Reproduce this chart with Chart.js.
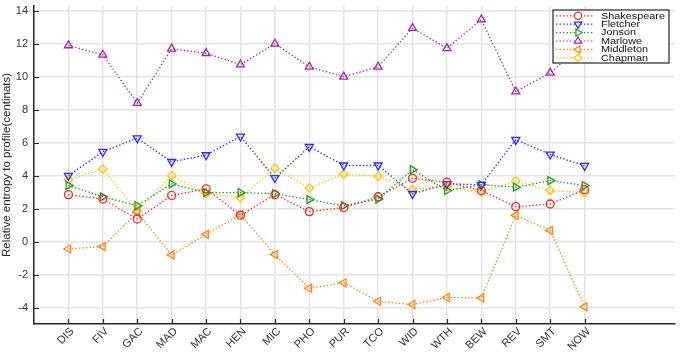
<!DOCTYPE html>
<html>
<head>
<meta charset="utf-8">
<script src="https://cdn.jsdelivr.net/npm/chart.js@4.4.1/dist/chart.umd.min.js"></script>
<style>
  body { margin: 0; background: #fff; }
  #wrap { width: 681px; height: 353px; position: relative; }
</style>
</head>
<body>
<div id="wrap"><canvas id="myChart"></canvas></div>
<script>
// plays (x axis)
const plays = ['DIS','FIV','GAC','MAD','MAC','HEN','MIC','PHO','PUR','TCO','WID','WTH','BEW','REV','SMT','NOW'];
const yTicks = [-4,-2,0,2,4,6,8,10,12,14];

// relative entropy per author (centinats)
const shakespeare = [2.85,2.58,1.37,2.8,3.2,1.6,2.85,1.82,2.06,2.72,3.84,3.6,3.1,2.12,2.28,3.15];
const fletcher    = [4.0,5.45,6.28,4.84,5.25,6.38,3.86,5.75,4.63,4.63,2.9,3.5,3.45,6.18,5.29,4.6];
const jonson      = [3.41,2.72,2.18,3.5,2.97,2.97,2.9,2.55,2.18,2.58,4.36,3.1,3.45,3.3,3.7,3.4];
const marlowe     = [11.9,11.33,8.4,11.7,11.43,10.74,12.0,10.6,10.0,10.6,12.95,11.73,13.47,9.1,10.24,12.0];
const middleton   = [-0.45,-0.3,1.78,-0.81,0.44,1.63,-0.79,-2.83,-2.5,-3.62,-3.82,-3.39,-3.42,1.59,0.68,-3.96];
const chapman     = [3.74,4.4,1.85,4.0,2.92,2.67,4.44,3.25,4.1,3.96,3.15,3.35,3.0,3.67,3.1,2.97];

const series = [
  {label:'Shakespeare', data:shakespeare, color:'#ee2a2a', style:'circle',   rot:0,   r:4},
  {label:'Fletcher',    data:fletcher,    color:'#2c2cf5', style:'triangle', rot:180, r:4.6},
  {label:'Jonson',      data:jonson,      color:'#1f9a1f', style:'triangle', rot:90,  r:4.6},
  {label:'Marlowe',     data:marlowe,     color:'#a02aa0', style:'triangle', rot:0,   r:4.6},
  {label:'Middleton',   data:middleton,   color:'#ff8416', style:'triangle', rot:-90, r:4.6},
  {label:'Chapman',     data:chapman,     color:'#fcc40a', style:'rectRot',  rot:0,   r:4.2}
];

const dash = [1.4, 2.1];

// inward tick marks like matlab
const innerTicks = {
  id: 'innerTicks',
  beforeDatasetsDraw(chart) {
    const ctx = chart.ctx, a = chart.chartArea;
    const xs = chart.scales.x, ys = chart.scales.y;
    ctx.save();
    ctx.strokeStyle = '#262626';
    ctx.lineWidth = 1.2;
    ctx.beginPath();
    yTicks.forEach(v => {
      const y = Math.round(ys.getPixelForValue(v)) + 0.5;
      ctx.moveTo(a.left, y); ctx.lineTo(a.left + 5, y);
    });
    plays.forEach((p, i) => {
      const x = Math.round(xs.getPixelForValue(i + 1)) + 0.5;
      ctx.moveTo(x, a.bottom); ctx.lineTo(x, a.bottom - 5);
    });
    ctx.stroke();
    ctx.restore();
  }
};

// boxed legend on top of the plot
const boxLegend = {
  id: 'boxLegend',
  afterDraw(chart) {
    const ctx = chart.ctx;
    const bx = 553, by = 10, bw = 116, bh = 53;
    ctx.save();
    ctx.fillStyle = '#fff';
    ctx.fillRect(bx, by, bw, bh);
    ctx.strokeStyle = '#262626';
    ctx.lineWidth = 1.2;
    ctx.strokeRect(bx, by, bw, bh);
    ctx.font = '8.5px "Liberation Sans", Arial, sans-serif';
    const sx = 64 / ctx.measureText('Shakespeare').width;
    series.forEach((s, i) => {
      const y = 15.8 + i * 8.4;
      ctx.strokeStyle = s.color;
      ctx.lineWidth = 1.2;
      ctx.setLineDash(dash);
      ctx.beginPath(); ctx.moveTo(556, y); ctx.lineTo(594, y); ctx.stroke();
      ctx.setLineDash([]);
      ctx.fillStyle = '#fff';
      Chart.helpers.drawPoint(ctx, {pointStyle: s.style, radius: s.r * 0.9, rotation: s.rot, borderWidth: 1.3}, 578, y);
      ctx.save();
      ctx.translate(601, y);
      ctx.scale(sx, 1);
      ctx.fillStyle = '#111';
      ctx.textBaseline = 'middle';
      ctx.fillText(s.label, 0, 0.5);
      ctx.restore();
    });
    ctx.restore();
  }
};

new Chart('myChart', {
  type: 'line',
  data: {
    datasets: series.map(s => ({
      label: s.label,
      data: s.data.map((v, i) => ({x: i + 1, y: v})),
      borderColor: s.color,
      backgroundColor: 'rgba(0,0,0,0)',
      borderWidth: 1.3,
      borderDash: dash,
      pointStyle: s.style,
      rotation: s.rot,
      pointRadius: s.r,
      pointBorderWidth: 1.3,
      pointBorderColor: s.color,
      pointBackgroundColor: 'rgba(0,0,0,0)',
      fill: false,
      tension: 0
    }))
  },
  options: {
    responsive: true,
    maintainAspectRatio: false,
    animation: false,
    layout: { padding: 0 },
    plugins: { legend: { display: false }, tooltip: { enabled: false } },
    scales: {
      x: {
        type: 'linear',
        min: 0,
        max: 18.63,
        afterBuildTicks: sc => { sc.ticks = plays.map((p, i) => ({value: i + 1})); },
        afterFit: sc => { sc.height = 29; sc.paddingLeft = 0; sc.paddingRight = 0; },
        grid: { color: '#e4e4e4', lineWidth: 1.5, drawTicks: false },
        border: { display: true, color: '#262626', width: 1.5 },
        ticks: {
          autoSkip: false,
          minRotation: 45,
          maxRotation: 45,
          padding: 1,
          labelOffset: 4,
          color: '#333',
          font: { family: '"Liberation Sans", Arial, sans-serif', size: 11 },
          callback: v => plays[v - 1] || ''
        }
      },
      y: {
        min: -5,
        max: 14.3,
        afterBuildTicks: sc => { sc.ticks = yTicks.map(v => ({value: v})); },
        afterFit: sc => { sc.width = 34; sc.paddingTop = 0; sc.paddingBottom = 0; },
        grid: { color: '#e4e4e4', lineWidth: 1.5, drawTicks: false },
        border: { display: true, color: '#262626', width: 1.5 },
        ticks: {
          padding: 6,
          color: '#333',
          font: { family: '"Liberation Sans", Arial, sans-serif', size: 11 }
        },
        title: {
          display: true,
          text: 'Relative entropy to profile(centinats)',
          color: '#262626',
          padding: { top: 0, bottom: 0 },
          font: { family: '"Liberation Sans", Arial, sans-serif', size: 11.5 }
        }
      }
    }
  },
  plugins: [innerTicks, boxLegend]
});
</script>
</body>
</html>
